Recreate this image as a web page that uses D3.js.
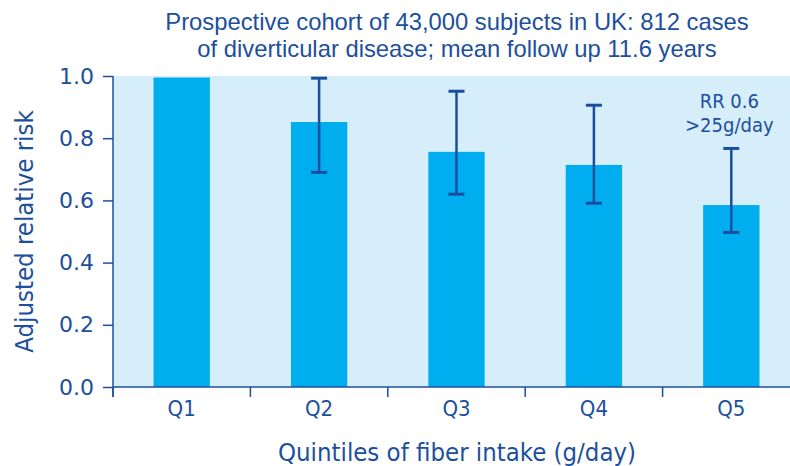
<!DOCTYPE html>
<html><head><meta charset="utf-8">
<script src="https://cdn.jsdelivr.net/npm/d3@7"></script>
<style>body{margin:0;background:#fff}</style>
</head><body>
<svg id="c" width="790" height="466"></svg>
<script>
const categories = ["Q1","Q2","Q3","Q4","Q5"];
const values = [0.995, 0.852, 0.756, 0.714, 0.585];
const errLow = [null, 0.690, 0.620, 0.591, 0.497];
const errHigh = [null, 0.993, 0.951, 0.906, 0.767];
const yTicks = [0, 0.2, 0.4, 0.6, 0.8, 1.0];
const titleLines = ["Prospective cohort of 43,000 subjects in UK: 812 cases","of diverticular disease; mean follow up 11.6 years"];
const annotation = ["RR 0.6", ">25g/day"];

const textColor = "#1c4f9c";
const svg = d3.select("#c");
const m = {left:113, top:76, right:800, bottom:387};
const x = d3.scaleBand().domain(categories).range([m.left, m.right]).paddingInner(0.59).paddingOuter(0.295);
const xTicksScale = d3.scaleBand().domain(categories).range([m.left, m.right]);
const y = d3.scaleLinear().domain([0,1]).range([m.bottom, m.top]);

svg.append("rect").attr("x", m.left).attr("y", m.top).attr("width", 790-m.left).attr("height", m.bottom-m.top).attr("fill", "#d6edfa");

svg.selectAll(".bar").data(categories).enter().append("rect")
  .attr("x", d=>x(d)).attr("width", x.bandwidth())
  .attr("y", (d,i)=>y(values[i])).attr("height", (d,i)=>y(0)-y(values[i]))
  .attr("fill", "#00aeef");

const eb = svg.append("g").attr("stroke", "#1a4fa0").attr("stroke-width", 2.5);
categories.forEach((c,i)=>{
  if (errLow[i]==null) return;
  const cx = x(c)+x.bandwidth()/2;
  eb.append("line").attr("x1",cx).attr("x2",cx).attr("y1",y(errLow[i])).attr("y2",y(errHigh[i]));
  eb.append("line").attr("x1",cx-8).attr("x2",cx+8).attr("y1",y(errLow[i])).attr("y2",y(errLow[i])).attr("stroke-width",3);
  eb.append("line").attr("x1",cx-8).attr("x2",cx+8).attr("y1",y(errHigh[i])).attr("y2",y(errHigh[i])).attr("stroke-width",3);
});

// y axis
const ya = svg.append("g").attr("transform", `translate(${m.left},0)`)
  .call(d3.axisLeft(y).tickValues(yTicks).tickFormat(d3.format(".1f")).tickSize(10).tickPadding(9));
ya.select(".domain").attr("stroke", "#1c4f9c").attr("stroke-width",1.5).attr("d", `M0,${m.top}V${m.bottom+10}`);
ya.selectAll(".tick line").attr("stroke", "#1c4f9c").attr("stroke-width",1.5);
ya.selectAll(".tick text").attr("fill", textColor).style("font-family","DejaVu Sans").style("font-size","22px");

// x axis
const xa = svg.append("g").attr("transform", `translate(0,${m.bottom})`)
  .call(d3.axisBottom(x).tickSize(0).tickPadding(13));
xa.select(".domain").attr("stroke", "#1c4f9c").attr("stroke-width",1.5).attr("d", `M${m.left},0H790`);
xa.selectAll(".tick text").attr("fill", textColor).style("font-family","DejaVu Sans Condensed").style("font-size","22px");
svg.append("g").selectAll("line").data(categories).enter().append("line")
  .attr("x1", d=>xTicksScale(d)).attr("x2", d=>xTicksScale(d))
  .attr("y1", m.bottom).attr("y2", m.bottom+10).attr("stroke","#1c4f9c").attr("stroke-width",1.5);

// axis titles
svg.append("text").attr("transform", `translate(33,${(m.top+m.bottom)/2}) rotate(-90)`)
  .attr("text-anchor","middle").attr("fill",textColor)
  .style("font-family","DejaVu Sans Condensed").style("font-size","25.5px").text("Adjusted relative risk");
svg.append("text").attr("x", 457).attr("y", 461).attr("text-anchor","middle").attr("fill",textColor)
  .style("font-family","DejaVu Sans Condensed").style("font-size","25.5px").text("Quintiles of fiber intake (g/day)");

// title
svg.selectAll(".title").data(titleLines).enter().append("text")
  .attr("x", 457).attr("y", (d,i)=>30+i*27).attr("text-anchor","middle").attr("fill",textColor)
  .style("font-family","Liberation Sans").style("font-size","23.8px").text(d=>d);

// annotation
const q5 = x("Q5")+x.bandwidth()/2;
svg.selectAll(".ann").data(annotation).enter().append("text")
  .attr("x", q5-2).attr("y", (d,i)=>108+i*24).attr("text-anchor","middle").attr("fill",textColor)
  .style("font-family","DejaVu Sans Condensed").style("font-size","20px").text(d=>d);
</script>
</body></html>
